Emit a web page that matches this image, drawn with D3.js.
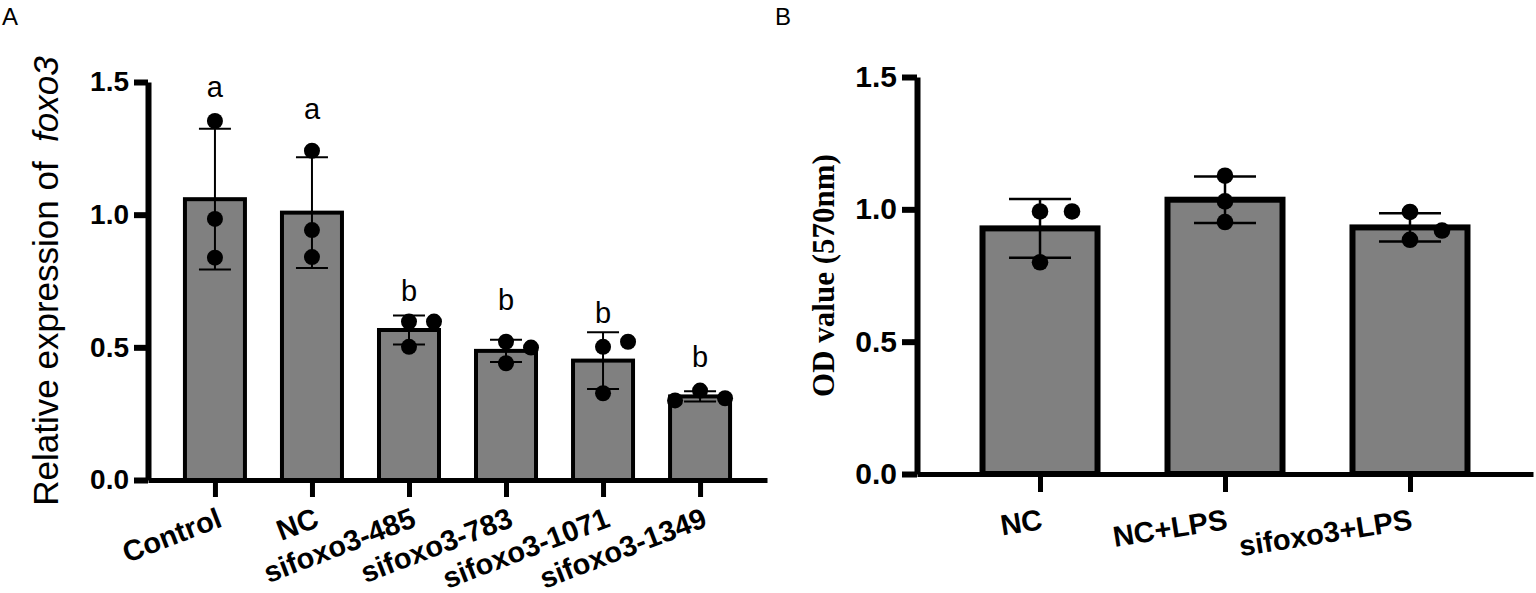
<!DOCTYPE html>
<html lang="en">
<head>
  <meta charset="UTF-8">
  <title>foxo3 knockdown bar charts</title>
  <script src="https://d3js.org/d3.v7.min.js"></script>
  <style>
    body { margin: 0; background: #fff; }
    svg { display: block; }
    .bar { fill: #808080; stroke: #000; }
    .err { stroke: #000; fill: none; }
    .dot { fill: #000; }
    .axis path, .axis line { stroke: #000; }
    .tick-label { font-family: "Liberation Sans", Arial, sans-serif; font-weight: bold; fill: #000; }
    .sig { font-family: "Liberation Sans", Arial, sans-serif; font-size: 29px; fill: #000; }
    .panel { font-family: "Liberation Sans", Arial, sans-serif; font-size: 24px; fill: #000; }
  </style>
</head>
<body>
  <svg width="1536" height="593"></svg>

  <script>
    // panel A: relative expression of foxo3 (3 replicates each)
    var catsA = ["Control", "NC", "sifoxo3-485", "sifoxo3-783", "sifoxo3-1071", "sifoxo3-1349"];
    var pointsA = [
      [1.353, 0.984, 0.838],
      [1.241, 0.942, 0.840],
      [0.597, 0.502, 0.597],
      [0.521, 0.440, 0.499],
      [0.502, 0.327, 0.521],
      [0.337, 0.308, 0.300]
    ];
    var lettersA = ["a", "a", "b", "b", "b", "b"];
    var letterValA = [1.445, 1.361, 0.675, 0.641, 0.592, 0.426];

    // panel B: OD value (570nm)
    var catsB = ["NC", "NC+LPS", "sifoxo3+LPS"];
    var pointsB = [
      [0.992, 0.800, 0.992],
      [1.127, 1.030, 0.952],
      [0.990, 0.920, 0.885]
    ];

    var yTicks = [0, 0.5, 1.0, 1.5];

    var svg = d3.select("svg");

    function drawPanel(cfg) {
      var g = svg.append("g");
      var x = d3.scalePoint().domain(cfg.cats).range([cfg.left, cfg.right]).padding(cfg.pad);
      var y = d3.scaleLinear().domain([0, 1.5]).range([cfg.bottom, cfg.top]);

      var stats = cfg.points.map(function(p, i) {
        return { cat: cfg.cats[i], pts: p, mean: d3.mean(p), sd: d3.deviation(p) };
      });

      // bars
      g.selectAll(".bar").data(stats).enter().append("rect")
          .attr("class", "bar")
          .attr("x", function(d) { return x(d.cat) - cfg.barW / 2; })
          .attr("width", cfg.barW)
          .attr("y", function(d) { return y(d.mean); })
          .attr("height", function(d) { return y(0) - y(d.mean); })
          .style("stroke-width", cfg.barStroke);

      // error bars (mean +- SD)
      var eb = g.selectAll(".eb").data(stats).enter().append("g")
          .attr("transform", function(d) { return "translate(" + x(d.cat) + ",0)"; });
      eb.append("line").attr("class", "err")
          .attr("y1", function(d) { return y(d.mean + d.sd); })
          .attr("y2", function(d) { return y(d.mean - d.sd); })
          .style("stroke-width", cfg.errW);
      [1, -1].forEach(function(s) {
        eb.append("line").attr("class", "err")
            .attr("x1", -cfg.capW / 2).attr("x2", cfg.capW / 2)
            .attr("y1", function(d) { return y(d.mean + s * d.sd); })
            .attr("y2", function(d) { return y(d.mean + s * d.sd); })
            .style("stroke-width", cfg.errW);
      });

      // scatter points, spread sideways when they would overlap
      var dots = [];
      stats.forEach(function(d) {
        var placed = [];
        d.pts.forEach(function(v) {
          var py = y(v);
          var slots = [0, 1, -1, 2, -2];
          for (var k = 0; k < slots.length; k++) {
            var clash = placed.some(function(q) {
              return q.slot === slots[k] && Math.abs(q.py - py) < cfg.r * 2.4;
            });
            if (!clash) { placed.push({ slot: slots[k], py: py }); break; }
          }
        });
        placed.forEach(function(q) {
          dots.push({ cx: x(d.cat) + q.slot * cfg.spread, cy: q.py });
        });
      });
      g.selectAll(".dot").data(dots).enter().append("circle")
          .attr("class", "dot")
          .attr("cx", function(d) { return d.cx; })
          .attr("cy", function(d) { return d.cy; })
          .attr("r", cfg.r);

      // y axis
      var ya = g.append("g").attr("class", "axis")
          .attr("transform", "translate(" + cfg.left + ",0)")
          .call(d3.axisLeft(y).tickValues(yTicks).tickFormat(d3.format(".1f"))
            .tickSize(cfg.tickLen).tickSizeOuter(0).tickPadding(5));
      ya.select(".domain").style("stroke-width", cfg.axisW);
      ya.selectAll(".tick line").style("stroke-width", cfg.axisW);
      ya.selectAll(".tick text").attr("class", "tick-label")
          .style("font-size", cfg.tickFont + "px");

      // x axis
      var xa = g.append("g").attr("class", "axis")
          .attr("transform", "translate(0," + cfg.bottom + ")")
          .call(d3.axisBottom(x).tickSize(cfg.tickLen + 3).tickSizeOuter(0));
      xa.select(".domain").style("stroke-width", cfg.axisW - 1);
      xa.selectAll(".tick line").style("stroke-width", cfg.axisW - 1);
      xa.selectAll(".tick text")
          .attr("class", "tick-label")
          .style("font-size", cfg.labelFont + "px")
          .attr("text-anchor", "end")
          .attr("x", 0).attr("y", 0).attr("dy", 0)
          .attr("transform", "translate(" + cfg.labelDx + "," + cfg.labelDy + ") rotate(" + cfg.angle + ")");

      return { x: x, y: y, g: g };
    }

    var A = drawPanel({
      cats: catsA, points: pointsA,
      left: 148, right: 767, pad: 0.69, top: 82, bottom: 480,
      barW: 60, barStroke: 4, capW: 32, errW: 2, r: 8, spread: 25,
      axisW: 6, tickLen: 14, tickFont: 28, labelFont: 29,
      labelDx: 8, labelDy: 46, angle: -21
    });

    var B = drawPanel({
      cats: catsB, points: pointsB,
      left: 917, right: 1533, pad: 0.665, top: 77, bottom: 474,
      barW: 115, barStroke: 6, capW: 62, errW: 2.5, r: 8.3, spread: 32,
      axisW: 6, tickLen: 15, tickFont: 30, labelFont: 29,
      labelDx: 3, labelDy: 55, angle: -9
    });

    // significance letters (panel A)
    A.g.selectAll(".sig").data(catsA).enter().append("text")
        .attr("class", "sig")
        .attr("text-anchor", "middle")
        .attr("x", function(d) { return A.x(d); })
        .attr("y", function(d, i) { return A.y(letterValA[i]); })
        .text(function(d, i) { return lettersA[i]; });

    // y axis titles
    var ttlA = svg.append("text")
        .attr("transform", "translate(58," + (A.y(0.75)) + ") rotate(-90)")
        .attr("text-anchor", "middle")
        .style("font-family", "'Liberation Sans', Arial, sans-serif")
        .style("font-size", "35px")
        .style("white-space", "pre");
    ttlA.append("tspan").text("Relative expression of  ");
    ttlA.append("tspan").style("font-style", "italic").text("foxo3");

    svg.append("text")
        .attr("transform", "translate(834," + (B.y(0.75)) + ") rotate(-90)")
        .attr("text-anchor", "middle")
        .style("font-family", "'Liberation Serif', 'Times New Roman', serif")
        .style("font-weight", "bold")
        .style("font-size", "31px")
        .text("OD value (570nm)");

    // panel letters
    svg.append("text").attr("class", "panel").attr("x", 2).attr("y", 25).text("A");
    svg.append("text").attr("class", "panel").attr("x", 775).attr("y", 25).text("B");
  </script>
</body>
</html>
